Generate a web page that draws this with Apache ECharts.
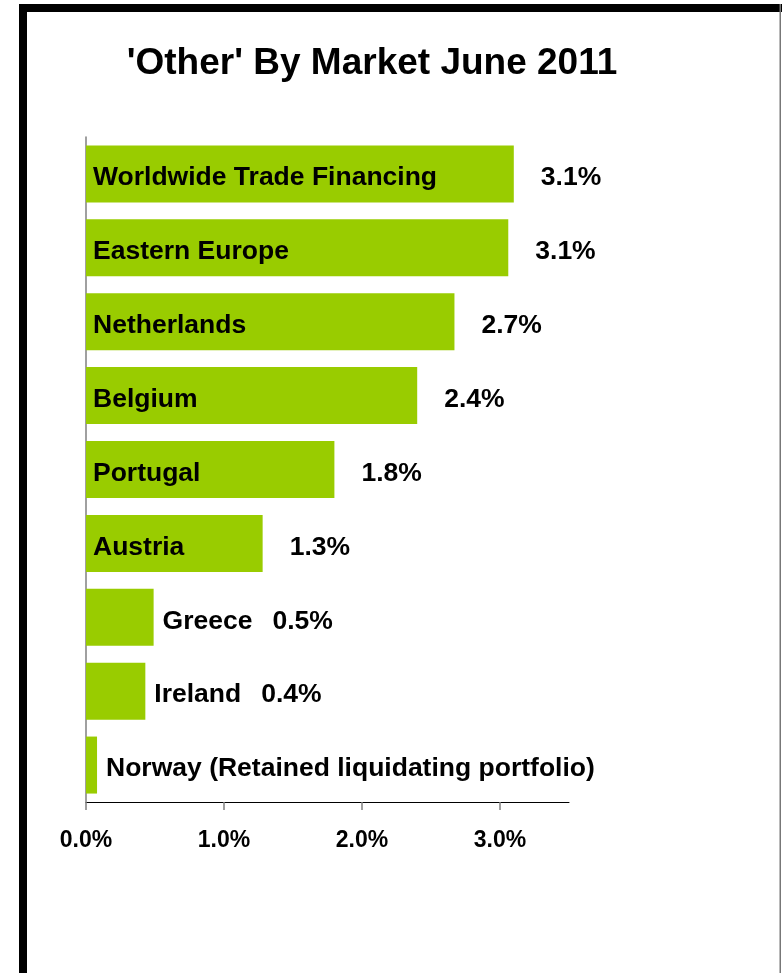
<!DOCTYPE html>
<html>
<head>
<meta charset="utf-8">
<script src="https://cdn.jsdelivr.net/npm/echarts@6/dist/echarts.min.js"></script>
<style>
	html, body { margin: 0; padding: 0; background: #fff; }
	#main { width: 782px; height: 973px; }
</style>
</head>
<body>
<div id="main"></div>
<script>
// 市场分类
const markets = [
	'Worldwide Trade Financing',
	'Eastern Europe',
	'Netherlands',
	'Belgium',
	'Portugal',
	'Austria',
	'Greece',
	'Ireland',
	'Norway (Retained liquidating portfolio)'
];
// 占比 (%)
const shares = [3.10, 3.06, 2.67, 2.40, 1.80, 1.28, 0.49, 0.43, 0.08];
// 横轴刻度
const xTicks = [0, 1, 2, 3];
const xMax = 3.5;

const font = '"Liberation Sans", Arial, sans-serif';
const green = '#99CC00';
const pct = (v) => v.toFixed(1) + '%';

// 条太短放不下名字时, 名字放到条外
const fitsInside = (v) => v >= 1;
const showValue = (v) => v >= 0.1;

const nameData = shares.map((v, i) => {
	const inside = fitsInside(v);
	return {
		value: v,
		label: inside ? {
			position: 'insideLeft',
			distance: 7,
			formatter: '{b}'
		} : {
			position: 'right',
			distance: 9,
			formatter: (p) => showValue(p.value) ? '{n|' + p.name + '}{v|' + pct(p.value) + '}' : '{n|' + p.name + '}'
		}
	};
});

const valueData = shares.map((v) => ({
	value: v,
	label: { show: fitsInside(v) }
}));

const myChart = echarts.init(document.getElementById('main'));
const option = {
	animation: false,
	backgroundColor: '#fff',
	title: {
		text: "'Other' By Market June 2011",
		left: 367,
		top: 40,
		textAlign: 'center',
		textStyle: {
			fontFamily: font,
			fontSize: 37,
			fontWeight: 'bold',
			color: '#000'
		}
	},
	graphic: [
		// 边框
		{ type: 'rect', shape: { x: 19, y: 4, width: 8, height: 969 }, style: { fill: '#000' } },
		{ type: 'rect', shape: { x: 19, y: 4, width: 763, height: 8 }, style: { fill: '#000' } },
		{ type: 'rect', shape: { x: 779.5, y: 4, width: 1.5, height: 969 }, style: { fill: '#777' } }
	],
	grid: {
		left: 86,
		right: 213,
		top: 137,
		bottom: 171
	},
	xAxis: {
		type: 'value',
		min: 0,
		max: xMax,
		interval: 1,
		splitLine: { show: false },
		axisLine: { show: true, lineStyle: { color: '#000', width: 1 } },
		axisTick: {
			show: true,
			customValues: xTicks,
			length: 8,
			lineStyle: { color: '#808080', width: 1.5 }
		},
		axisLabel: {
			customValues: xTicks,
			margin: 27,
			fontFamily: font,
			fontSize: 23,
			fontWeight: 'bold',
			color: '#000',
			formatter: (v) => pct(v)
		}
	},
	yAxis: {
		type: 'category',
		data: markets,
		inverse: true,
		axisLine: { show: true, lineStyle: { color: '#808080', width: 1.5 } },
		axisTick: { show: false },
		axisLabel: { show: false },
		splitLine: { show: false }
	},
	series: [
		{
			name: 'market',
			type: 'bar',
			barWidth: 57,
			itemStyle: { color: green },
			label: {
				show: true,
				offset: [0, 4],
				fontFamily: font,
				fontSize: 26.5,
				fontWeight: 'bold',
				color: '#000',
				rich: {
					n: { fontFamily: font, fontSize: 26.5, fontWeight: 'bold', color: '#000' },
					v: { fontFamily: font, fontSize: 26.5, fontWeight: 'bold', color: '#000', padding: [0, 0, 0, 20] }
				}
			},
			data: nameData,
			z: 2
		},
		{
			name: 'value',
			type: 'bar',
			barWidth: 57,
			barGap: '-100%',
			itemStyle: { color: 'rgba(0,0,0,0)' },
			label: {
				position: 'right',
				distance: 27,
				offset: [0, 4],
				fontFamily: font,
				fontSize: 26.5,
				fontWeight: 'bold',
				color: '#000',
				formatter: (p) => pct(p.value)
			},
			data: valueData,
			z: 3
		}
	]
};
myChart.setOption(option, true);
</script>
</body>
</html>
